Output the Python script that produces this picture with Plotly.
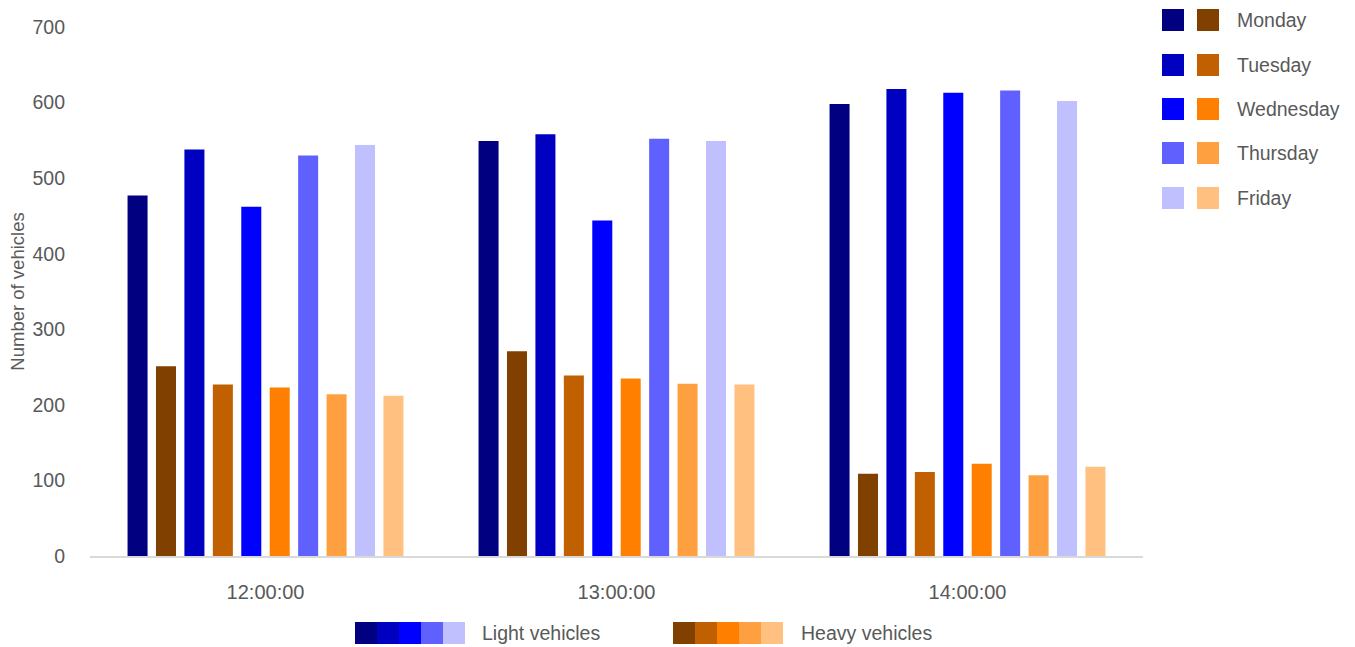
import plotly.graph_objects as go

categories = ["12:00:00", "13:00:00", "14:00:00"]
days = ["Monday", "Tuesday", "Wednesday", "Thursday", "Friday"]
light = {
    "Monday": [477, 549, 598],
    "Tuesday": [538, 558, 618],
    "Wednesday": [462, 444, 613],
    "Thursday": [530, 552, 616],
    "Friday": [544, 549, 602],
}
heavy = {
    "Monday": [251, 271, 109],
    "Tuesday": [227, 239, 111],
    "Wednesday": [223, 235, 122],
    "Thursday": [214, 228, 107],
    "Friday": [212, 227, 118],
}
light_colors = ["#000080", "#0000C0", "#0000FF", "#6060FF", "#C0C0FF"]
heavy_colors = ["#804000", "#C06000", "#FF8000", "#FFA040", "#FFC080"]
y_ticks = [0, 100, 200, 300, 400, 500, 600, 700]

fig = go.Figure()
for i, d in enumerate(days):
    fig.add_trace(go.Bar(x=categories, y=light[d], name=f"Light vehicles {d}",
                         marker=dict(color=light_colors[i], line=dict(width=0))))
    fig.add_trace(go.Bar(x=categories, y=heavy[d], name=f"Heavy vehicles {d}",
                         marker=dict(color=heavy_colors[i], line=dict(width=0))))

W, H = 1355, 647
L, R, T, B = 90, 1143, 27, 556
def px(x):
    return (x - L) / (R - L)
def py(y):
    return (B - y) / (B - T)

FAM = "Liberation Sans, Arial, sans-serif"
shapes = []
annotations = []
font = dict(family=FAM, size=19.5, color="#595959")
# right legend
rows = [20, 65, 109, 153, 198]
for i, d in enumerate(days):
    yc = rows[i]
    shapes.append(dict(type="rect", xref="paper", yref="paper", x0=px(1162), x1=px(1184),
                       y0=py(yc + 11), y1=py(yc - 11), fillcolor=light_colors[i], line=dict(width=0)))
    shapes.append(dict(type="rect", xref="paper", yref="paper", x0=px(1197), x1=px(1219),
                       y0=py(yc + 11), y1=py(yc - 11), fillcolor=heavy_colors[i], line=dict(width=0)))
    annotations.append(dict(text=d, xref="paper", yref="paper", x=px(1235), y=py(yc),
                            xanchor="left", yanchor="middle", showarrow=False, font=font))
# bottom legend
yc = 633
for i in range(5):
    shapes.append(dict(type="rect", xref="paper", yref="paper", x0=px(355 + 22 * i), x1=px(377 + 22 * i),
                       y0=py(yc + 11), y1=py(yc - 11), fillcolor=light_colors[i], line=dict(width=0)))
    shapes.append(dict(type="rect", xref="paper", yref="paper", x0=px(673 + 22 * i), x1=px(695 + 22 * i),
                       y0=py(yc + 11), y1=py(yc - 11), fillcolor=heavy_colors[i], line=dict(width=0)))
annotations.append(dict(text="Light vehicles", xref="paper", yref="paper", x=px(480), y=py(yc),
                        xanchor="left", yanchor="middle", showarrow=False, font=font))
annotations.append(dict(text="Heavy vehicles", xref="paper", yref="paper", x=px(799), y=py(yc),
                        xanchor="left", yanchor="middle", showarrow=False, font=font))

fig.update_layout(
    width=W, height=H,
    margin=dict(l=L, r=W - R, t=T, b=H - B),
    paper_bgcolor="white", plot_bgcolor="white",
    barmode="group", bargap=0.19, bargroupgap=0.296,
    showlegend=False,
    shapes=shapes, annotations=annotations,
    font=dict(family=FAM, color="#595959"),
    xaxis=dict(showline=True, linecolor="#D9D9D9", linewidth=1.5, showgrid=False,
               ticks="", tickfont=dict(size=20, color="#595959"), ticklabelstandoff=17),
    yaxis=dict(range=[0, 700], tickvals=y_ticks, showgrid=False, zeroline=False,
               showline=False, ticks="", tickfont=dict(size=19.5, color="#595959"),
               ticklabelstandoff=24,
               title=dict(text="Number of vehicles", font=dict(size=18.5, color="#595959"), standoff=2)),
)

fig.write_html("out.html")
